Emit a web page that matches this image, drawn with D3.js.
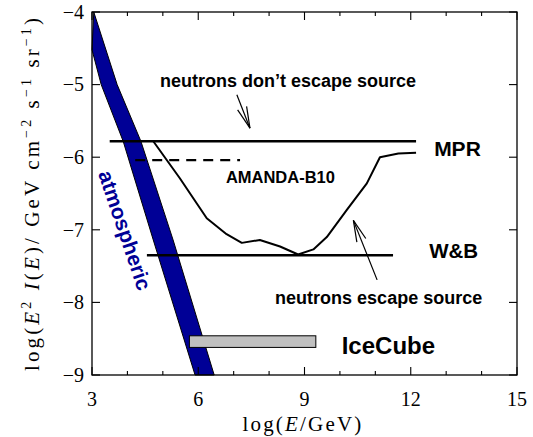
<!DOCTYPE html>
<html><head><meta charset="utf-8">
<script src="https://cdn.jsdelivr.net/npm/d3@7"></script>
<style>
body{margin:0;background:#fff;}
svg{display:block;}
.serif{font-family:"Liberation Serif","DejaVu Serif",serif;}
.sans{font-family:"Liberation Sans",Arial,Helvetica,sans-serif;font-weight:bold;}
</style></head>
<body><svg id="c" width="533" height="437"></svg>
<script>
// ---- data ----
const xDomain = [3, 15];
const yDomain = [-9, -4];
const xMajorTicks = [3, 6, 9, 12, 15];
const xMinorTicks = [4, 5, 7, 8, 10, 11, 13, 14];
const yTicks = [-4, -5, -6, -7, -8, -9];
// atmospheric band edges (log E, log E^2 I)
const atmUpper = [[3.05, -4.0], [3.71, -5.0], [4.38, -5.78], [5.29, -7.14], [6.45, -9.0]];
const atmLower = [[3.0, -4.52], [3.26, -5.0], [3.88, -5.78], [4.73, -7.14], [5.91, -9.0]];
// MPR bound
const mprX = [3.5, 12.15];
const mprY = -5.78;
// W&B bound
const wbX = [4.55, 11.5];
const wbY = -7.35;
// AMANDA-B10 dashed limit
const amandaDashX = [4.22, 7.18];
const amandaDashY = -6.04;
// neutrons-escape curve
const escapeCurve = [[4.73, -5.78], [5.48, -6.29], [6.24, -6.84], [6.80, -7.06], [7.23, -7.18],
  [7.74, -7.14], [8.31, -7.23], [8.82, -7.34], [9.25, -7.27], [9.63, -7.10], [10.19, -6.73],
  [10.76, -6.36], [11.13, -6.00], [11.65, -5.95], [12.15, -5.94]];
// IceCube sensitivity bar
const iceCubeX = [5.75, 9.32];
const iceCubeY = [-8.46, -8.62];
// annotation arrows [from, to]
const arrows = [[[7.09, -5.14], [7.46, -5.60]], [[11.05, -7.69], [10.38, -6.87]]];
// labels [text, x, y, size]
const labels = [
  ["neutrons don\u2019t escape source", 4.92, -5.03, 18],
  ["MPR", 12.66, -5.98, 21],
  ["AMANDA-B10", 6.78, -6.36, 16.5],
  ["W&B", 12.52, -7.39, 20.5],
  ["neutrons escape source", 8.17, -8.02, 18],
  ["IceCube", 10.05, -8.71, 24]
];
const atmLabel = {text: "atmospheric", x: 3.737, y: -7.04, angle: 71.3};

// ---- chart ----
const M = {left: 92, right: 517, top: 12, bottom: 375};
const svg = d3.select("#c");
const x = d3.scaleLinear().domain(xDomain).range([M.left, M.right]);
const y = d3.scaleLinear().domain(yDomain).range([M.bottom, M.top]);
const navy = "#000096";

// band
const band = atmUpper.concat(atmLower.slice().reverse());
svg.append("path")
  .attr("d", d3.line().x(d => x(d[0])).y(d => y(d[1]))(band) + "Z")
  .attr("fill", navy).attr("stroke", "#000").attr("stroke-width", 1);

// IceCube rect
svg.append("rect")
  .attr("x", x(iceCubeX[0])).attr("y", y(iceCubeY[0]))
  .attr("width", x(iceCubeX[1]) - x(iceCubeX[0]))
  .attr("height", y(iceCubeY[1]) - y(iceCubeY[0]))
  .attr("fill", "#c0c0c0").attr("stroke", "#000").attr("stroke-width", 1);

// horizontal bounds
svg.append("line").attr("x1", x(mprX[0])).attr("x2", x(mprX[1]))
  .attr("y1", y(mprY)).attr("y2", y(mprY)).attr("stroke", "#000").attr("stroke-width", 2.6);
svg.append("line").attr("x1", x(wbX[0])).attr("x2", x(wbX[1]))
  .attr("y1", y(wbY)).attr("y2", y(wbY)).attr("stroke", "#000").attr("stroke-width", 2.6);
svg.append("line").attr("x1", x(amandaDashX[0])).attr("x2", x(amandaDashX[1]))
  .attr("y1", y(amandaDashY)).attr("y2", y(amandaDashY)).attr("stroke", "#000")
  .attr("stroke-width", 2.2).attr("stroke-dasharray", "10,7");

// escape curve
svg.append("path")
  .attr("d", d3.line().x(d => x(d[0])).y(d => y(d[1]))(escapeCurve))
  .attr("fill", "none").attr("stroke", "#000").attr("stroke-width", 2).attr("stroke-linejoin", "round");

// arrows
arrows.forEach(([a, b]) => {
  const x1 = x(a[0]), y1 = y(a[1]), x2 = x(b[0]), y2 = y(b[1]);
  svg.append("line").attr("x1", x1).attr("y1", y1).attr("x2", x2).attr("y2", y2)
    .attr("stroke", "#000").attr("stroke-width", 1.2);
  const ang = Math.atan2(y1 - y2, x1 - x2), L = 22, h = 0.22;
  [ang - h, ang + h].forEach(t => {
    svg.append("line").attr("x1", x2).attr("y1", y2)
      .attr("x2", x2 + L * Math.cos(t)).attr("y2", y2 + L * Math.sin(t))
      .attr("stroke", "#000").attr("stroke-width", 1.2);
  });
});

// labels
labels.forEach(([t, lx, ly, s]) => {
  svg.append("text").attr("class", "sans").attr("x", x(lx)).attr("y", y(ly))
    .attr("font-size", s).attr("fill", "#000").text(t);
});
svg.append("text").attr("class", "sans")
  .attr("transform", `translate(${x(atmLabel.x)},${y(atmLabel.y)}) rotate(${atmLabel.angle})`)
  .attr("text-anchor", "middle").attr("font-size", 21).attr("fill", navy).text(atmLabel.text);

// frame
svg.append("rect").attr("x", M.left).attr("y", M.top)
  .attr("width", M.right - M.left).attr("height", M.bottom - M.top)
  .attr("fill", "none").attr("stroke", "#000").attr("stroke-width", 1.3);

// ticks (inward)
const tk = svg.append("g").attr("stroke", "#000").attr("stroke-width", 1.1);
xMajorTicks.forEach(v => {
  tk.append("line").attr("x1", x(v)).attr("x2", x(v)).attr("y1", M.bottom).attr("y2", M.bottom - 8);
  tk.append("line").attr("x1", x(v)).attr("x2", x(v)).attr("y1", M.top).attr("y2", M.top + 8);
});
xMinorTicks.forEach(v => {
  tk.append("line").attr("x1", x(v)).attr("x2", x(v)).attr("y1", M.bottom).attr("y2", M.bottom - 4);
  tk.append("line").attr("x1", x(v)).attr("x2", x(v)).attr("y1", M.top).attr("y2", M.top + 4);
});
yTicks.forEach(v => {
  tk.append("line").attr("x1", M.left).attr("x2", M.left + 8).attr("y1", y(v)).attr("y2", y(v));
  tk.append("line").attr("x1", M.right).attr("x2", M.right - 8).attr("y1", y(v)).attr("y2", y(v));
});

// tick labels
xMajorTicks.forEach(v => {
  svg.append("text").attr("class", "serif").attr("x", x(v)).attr("y", 406)
    .attr("text-anchor", "middle").attr("font-size", 20).text(v);
});
yTicks.forEach(v => {
  svg.append("text").attr("class", "serif").attr("x", 84).attr("y", y(v))
    .attr("dy", "0.34em").attr("text-anchor", "end").attr("font-size", 20)
    .text("\u2212" + Math.abs(v));
});

// fit a text element to a target length via letter-spacing
function fitSpacing(sel, target) {
  const node = sel.node();
  const w = node.getComputedTextLength();
  const n = node.textContent.length;
  sel.attr("letter-spacing", ((target - w) / n).toFixed(2));
}

// axis titles
const xt = svg.append("text").attr("class", "serif").attr("x", 303).attr("y", 431)
  .attr("text-anchor", "middle").attr("font-size", 21);
xt.append("tspan").text("log(");
xt.append("tspan").attr("font-style", "italic").text("E");
xt.append("tspan").text("/GeV)");
fitSpacing(xt, 121);

const yt = svg.append("text").attr("class", "serif")
  .attr("transform", "translate(39,193) rotate(-90)")
  .attr("text-anchor", "middle").attr("font-size", 21);
yt.append("tspan").text("log(");
yt.append("tspan").attr("font-style", "italic").text("E");
yt.append("tspan").attr("dy", -8).attr("font-size", 14).text("2");
yt.append("tspan").attr("dy", 8).text(" ");
yt.append("tspan").attr("font-style", "italic").text("I");
yt.append("tspan").text("(");
yt.append("tspan").attr("font-style", "italic").text("E");
yt.append("tspan").text(")/ GeV cm");
yt.append("tspan").attr("dy", -8).attr("font-size", 14).text("\u22122");
yt.append("tspan").attr("dy", 8).text(" s");
yt.append("tspan").attr("dy", -8).attr("font-size", 14).text("\u22121");
yt.append("tspan").attr("dy", 8).text(" sr");
yt.append("tspan").attr("dy", -8).attr("font-size", 14).text("\u22121");
yt.append("tspan").attr("dy", 8).text(")");
fitSpacing(yt, 356);
</script></body></html>
